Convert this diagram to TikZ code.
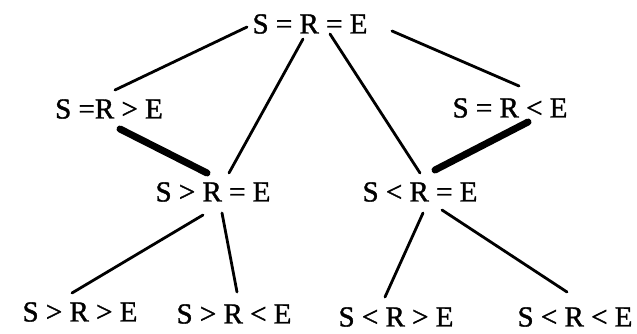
\documentclass[tikz,border=0pt]{standalone}
\usepackage{fontspec}
\setmainfont{Liberation Serif}
\newfontfamily\statefont{Liberation Serif}[FakeBold=1.3]
\usetikzlibrary{calc}
\begin{document}
\begin{tikzpicture}[x=1pt,y=-1pt,
  state/.style={inner sep=0pt,font=\statefont\fontsize{29}{30}\selectfont},
  thin link/.style={line width=2.8pt,line cap=round},
  thick link/.style={line width=7pt,line cap=round}]
\useasboundingbox (0,0) rectangle (637,333);

% states
\node[state] (top) at (310,24)  {S = R = E};
\node[state] (l1)  at (109,109) {S =R > E};
\node[state] (r1)  at (510,108) {S = R < E};
\node[state] (ml)  at (213,192) {S > R = E};
\node[state] (mr)  at (420,192) {S < R = E};
\node[state] (b1)  at (80,312)  {S > R > E};
\node[state] (b2)  at (234,314) {S > R < E};
\node[state] (b3)  at (396,317) {S < R > E};
\node[state] (b4)  at (575,317) {S < R < E};

% links from the top state
\draw[thin link] ($(top.center)+(-63,3)$) -- ($(l1.center)+(6,-19)$);
\draw[thin link] ($(top.center)+(82,7)$)  -- ($(r1.center)+(9,-22)$);
\draw[thin link] ($(top.center)+(-7,15)$) -- ($(ml.center)+(16,-19)$);
\draw[thin link] ($(top.center)+(20,10)$) -- ($(mr.center)+(0,-19)$);

% heavy links into the middle row
\draw[thick link] ($(l1.center)+(11,20)$) -- ($(ml.center)+(-6,-19)$);
\draw[thick link] ($(r1.center)+(18,14)$) -- ($(mr.center)+(15,-22)$);

% links to the bottom row
\draw[thin link] ($(ml.center)+(-10,23)$) -- ($(b1.center)+(-8,-19)$);
\draw[thin link] ($(ml.center)+(9,21)$)   -- ($(b2.center)+(3,-22)$);
\draw[thin link] ($(mr.center)+(3,21)$)   -- ($(b3.center)+(-11,-20)$);
\draw[thin link] ($(mr.center)+(22,18)$)  -- ($(b4.center)+(-8,-25)$);
\end{tikzpicture}
\end{document}
